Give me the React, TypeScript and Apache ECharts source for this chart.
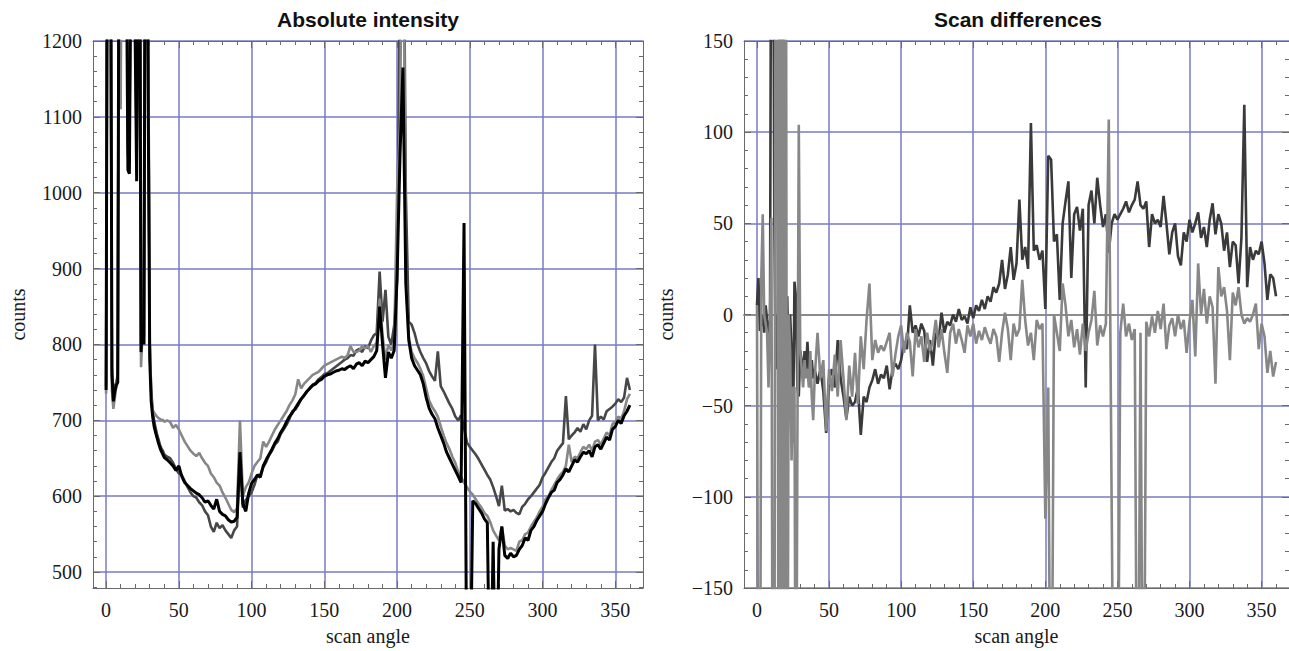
import React, { useEffect, useRef } from "react";
import * as echarts from "echarts";

// Sampled scan angles (degrees)
const angles: number[] = [
  0, 1, 2, 3, 4, 5, 6, 7, 8, 9,
  10, 11, 12, 13, 14, 15, 16, 17, 18, 19,
  20, 21, 22, 23, 24, 25, 26, 27, 28, 29,
  30, 31, 32, 33, 34, 35, 36, 37, 38, 39, 40,
  42, 44, 46, 48, 50, 52, 54, 56, 58, 60,
  62, 64, 66, 68, 70, 72, 74, 76, 78, 80,
  82, 84, 86, 88, 90, 92, 94, 96, 98, 100,
  102, 104, 106, 108, 110, 112, 114, 116, 118, 120,
  122, 124, 126, 128, 130, 132, 134, 136, 138, 140,
  142, 144, 146, 148, 150, 152, 154, 156, 158, 160,
  162, 164, 166, 168, 170, 172, 174, 176, 178, 180,
  182, 184, 186, 188, 190, 192, 194, 196, 198, 200,
  202, 204, 206, 208, 210, 212, 214, 216, 218, 220,
  222, 224, 226, 228, 230, 232, 234, 236, 238, 240,
  242, 244, 246, 248, 250, 252, 254, 256, 258, 260,
  262, 264, 266, 268, 270, 272, 274, 276, 278, 280,
  282, 284, 286, 288, 290, 292, 294, 296, 298, 300,
  302, 304, 306, 308, 310, 312, 314, 316, 318, 320,
  322, 324, 326, 328, 330, 332, 334, 336, 338, 340,
  342, 344, 346, 348, 350, 352, 354, 356, 358, 360,
];

// Absolute intensity, black scan
const intensityBlack: number[] = [
  740, 1500, 1500, 1500, 760, 725, 738, 746, 750, 1500,
  1500, 1500, 1500, 1500, 1300, 1030, 1025, 1300, 1500, 1500,
  1200, 1015, 1300, 1500, 790, 825, 800, 1500, 1500, 1100,
  780, 725, 705, 692, 684, 677, 670, 664, 659, 655, 651,
  648, 644, 640, 634, 640, 626, 618, 614, 610, 607,
  604, 602, 598, 592, 594, 588, 583, 596, 580, 576,
  574, 569, 566, 567, 572, 658, 590, 580, 604, 617,
  622, 628, 625, 640, 648, 655, 662, 670, 676, 684,
  690, 698, 705, 710, 716, 722, 728, 733, 738, 742,
  746, 748, 752, 754, 758, 760, 761, 763, 765, 766,
  768, 767, 770, 772, 768, 774, 776, 772, 778, 776,
  780, 784, 792, 850, 800, 756, 790, 782, 792, 890,
  1050, 1165, 880, 806, 782, 772, 766, 760, 748, 730,
  716, 708, 702, 690, 680, 670, 658, 650, 642, 634,
  626, 618, 960, 300, 300, 594, 590, 584, 578, 570,
  565, 300, 540, 300, 530, 560, 522, 518, 525, 520,
  522, 530, 535, 545, 542, 555, 560, 568, 574, 580,
  590, 598, 605, 608, 618, 622, 628, 636, 632, 640,
  648, 645, 652, 658, 656, 660, 652, 665, 668, 662,
  670, 678, 674, 688, 692, 700, 696, 706, 712, 720,
];

// Absolute intensity, dark gray scan
const intensityDark: number[] = [
  745, 1500, 1500, 1400, 770, 735, 745, 750, 760, 1500,
  1500, 1500, 1500, 1500, 1400, 1060, 1040, 1400, 1500, 1500,
  1300, 1030, 1350, 1500, 800, 830, 810, 1500, 1500, 1200,
  800, 740, 712, 700, 690, 682, 675, 668, 663, 660, 655,
  652, 650, 644, 636, 630, 628, 620, 612, 605, 600,
  598, 592, 588, 580, 575, 560, 553, 565, 558, 562,
  555, 550, 545, 555, 560, 650, 585, 595, 600, 605,
  615, 628, 628, 638, 645, 654, 660, 668, 672, 682,
  688, 694, 702, 712, 714, 720, 728, 732, 738, 743,
  747, 749, 754, 757, 761, 762, 765, 768, 771, 774,
  777, 780, 782, 786, 785, 792, 794, 790, 798, 795,
  805, 812, 815, 896, 830, 872, 810, 800, 825, 885,
  1300, 1500, 1000, 830, 826, 815, 800, 790, 782, 775,
  765, 758, 752, 791, 745, 738, 730, 722, 715, 705,
  700, 707, 690, 671, 665, 660, 655, 649, 642, 635,
  628, 622, 612, 600, 587, 614, 581, 583, 580, 582,
  578, 576, 586, 590, 596, 600, 605, 610, 615, 625,
  631, 638, 645, 650, 660, 665, 670, 732, 675, 680,
  684, 690, 685, 695, 688, 700, 706, 800, 700, 705,
  701, 712, 715, 718, 722, 728, 724, 730, 756, 740,
];

// Absolute intensity, mid gray scan
const intensityGray: number[] = [
  735, 1500, 1500, 1400, 740, 715, 730, 745, 755, 1500,
  1110, 1500, 1500, 1500, 1400, 1050, 1040, 1400, 1500, 1500,
  1250, 1055, 1300, 1500, 770, 815, 800, 1500, 1500, 1150,
  800, 735, 714, 710, 707, 705, 703, 702, 700, 701, 698,
  700, 698, 690, 694, 688, 680, 672, 666, 660, 656,
  653, 657, 650, 644, 640, 630, 625, 618, 614, 605,
  598, 590, 582, 579, 584, 700, 600, 612, 618, 630,
  640, 645, 650, 672, 665, 672, 680, 688, 694, 700,
  706, 712, 720, 726, 734, 754, 742, 748, 752, 756,
  760, 762, 764, 768, 772, 774, 776, 778, 780, 782,
  784, 782, 786, 798, 790, 790, 792, 798, 795, 798,
  790, 798, 802, 860, 812, 780, 800, 792, 802, 1002,
  1090, 1500, 890, 810, 790, 782, 776, 768, 758, 742,
  726, 718, 712, 705, 692, 680, 670, 662, 652, 644,
  632, 625, 618, 612, 606, 602, 596, 590, 585, 578,
  574, 566, 555, 548, 542, 560, 535, 530, 532, 530,
  528, 540, 542, 550, 552, 560, 566, 572, 580, 586,
  596, 600, 608, 615, 622, 628, 632, 640, 668, 645,
  652, 650, 658, 665, 662, 668, 660, 672, 674, 668,
  676, 684, 680, 695, 698, 705, 702, 712, 728, 735,
];

// Scan differences, dark gray
const diffDark: number[] = [
  5, 20, -9, -5, 0, -10, 5, -3, -8, -20,
  300, 300, 55, -30, 0, -20, 300, 108, 300, -128,
  -60, 10, -40, 0, -20, -70, 18, 10, -40, -45,
  -20, -25, -35, -20, -30, -15, -30, -40, -25, -35, -30,
  -38, -30, -42, -65, -35, -30, -40, -14, -35, -45,
  -57, -45, -50, -48, -40, -66, -45, -48, -40, -36,
  -30, -38, -33, -35, -28, -41, -30, -27, -30, -25,
  -15, -19, 5, -10, -6, -12, -5, -9, -26, -14,
  -28, -10, -14, 1, -10, -4, -6, 0, -4, 3,
  -3, -1, -5, 4, -2, 5, 2, 8, 3, 10,
  7, 15, 12, 17, 30, 14, 22, 37, 19, 28,
  63, 30, 37, 25, 105, 35, 38, 30, 35, 3,
  87, 85, 40, 44, 8, 50, 62, 73, 20, 55,
  59, 46, 58, -40, 60, 68, 50, 75, 60, 48,
  55, 34, 50, 55, 52, 55, 58, 62, 56, 60,
  63, 73, 60, 58, 62, 37, 55, 50, 52, 48,
  65, 50, 33, 45, 50, 32, 27, 45, 40, 52,
  45, 50, 56, 42, 48, 37, 52, 61, 44, 55,
  50, 35, 45, 26, 40, 38, 17, 42, 115, 15,
  37, 30, 35, 33, 40, 28, 8, 22, 20, 10,
];

// Scan differences, mid gray
const diffGray: number[] = [
  5, -300, -300, 20, 55, 0, -5, -10, -40, -5,
  53, -300, -300, 300, 300, -300, 300, -300, 300, -300,
  300, -300, 0, -20, -80, -40, -40, -300, -74, 104,
  -20, -30, -40, -25, -35, -30, -40, -20, -45, -58, -35,
  -10, -35, -25, -64, -30, -42, -22, -45, -14, -35,
  -58, -28, -45, -21, -49, -12, -30, -3, 17, -25,
  -14, -21, -17, -20, -15, -10, -34, -22, -12, -6,
  -21, -10, -15, -34, -8, -18, -12, -26, -10, -20,
  -15, -3, -18, -8, -21, -32, -10, -5, -16, -8,
  -14, -21, -6, -12, -5, -16, -9, -14, -7, -12,
  -16, -8, -12, -26, -10, 1, -8, -25, -5, -12,
  -8, 19, -3, -17, -10, -25, -3, -8, -5, -112,
  -40, -300, 0, -10, -20, 17, 5, -12, -3, -18,
  -8, -22, -5, -20, -10, -3, 13, -17, -6, -12,
  -5, 107, -104, -300, -300, -10, 6, -12, -5, -14,
  -8, -300, -10, -300, -4, -12, -1, -10, 2, -8,
  6, -19, -6, -2, -12, 0, -8, -3, -21, -4,
  8, -23, 28, 0, 14, -5, 10, 4, -38, 26,
  10, 15, 2, -25, 12, 5, 15, 0, -5, -2,
  -4, 0, 6, -19, -5, -12, -32, -20, -34, -26,
];

// Tick positions and labels
const xMajorTicks = [0, 50, 100, 150, 200, 250, 300, 350];
const xMinorTicks = [
  0, 10, 20, 30, 40, 50, 60, 70, 80, 90, 100, 110, 120, 130, 140, 150, 160, 170, 180,
  190, 200, 210, 220, 230, 240, 250, 260, 270, 280, 290, 300, 310, 320, 330, 340, 350, 360,
];
const leftMajorTicks = [500, 600, 700, 800, 900, 1000, 1100, 1200];
const leftMinorTicks = [
  480, 500, 520, 540, 560, 580, 600, 620, 640, 660, 680, 700, 720, 740, 760, 780, 800, 820, 840,
  860, 880, 900, 920, 940, 960, 980, 1000, 1020, 1040, 1060, 1080, 1100, 1120, 1140, 1160, 1180, 1200,
];
const rightMajorTicks = [-150, -100, -50, 0, 50, 100, 150];
const rightMinorTicks = [
  -150, -140, -130, -120, -110, -100, -90, -80, -70, -60, -50, -40, -30, -20, -10, 0,
  10, 20, 30, 40, 50, 60, 70, 80, 90, 100, 110, 120, 130, 140, 150,
];

const SERIF = '"Liberation Serif", "Times New Roman", serif';
const SANS = '"Liberation Sans", Arial, Helvetica, sans-serif';
const FRAME = "#6a6a6a";
const GRID_BLUE = "#7a7ac6";
const LABEL = "#1a1a1a";

const pairs = (ys: number[]) => angles.map((a, i) => [a, ys[i]]);

function xAxesFor(gridIndex: number, withZeroLine: boolean) {
  const base = { type: "value", gridIndex, min: -9, max: 369 };
  const line = { color: FRAME, width: 1 };
  const axes: any[] = [
    {
      ...base,
      position: "bottom",
      name: "scan angle",
      nameLocation: "middle",
      nameGap: 38,
      nameTextStyle: { fontFamily: SERIF, fontSize: 20, color: LABEL },
      axisLine: { show: true, onZero: false, lineStyle: line },
      axisTick: { show: true, inside: true, length: 7, customValues: xMajorTicks, lineStyle: line },
      axisLabel: { show: true, customValues: xMajorTicks, margin: 12, fontFamily: SERIF, fontSize: 20, color: LABEL },
      splitLine: { show: true, lineStyle: { color: GRID_BLUE, width: 1.5 } },
    },
    {
      ...base,
      position: "bottom",
      axisLine: { show: false, onZero: false },
      axisTick: { show: true, inside: true, length: 4, customValues: xMinorTicks, lineStyle: line },
      axisLabel: { show: false },
      splitLine: { show: false },
    },
    {
      ...base,
      position: "top",
      axisLine: { show: true, onZero: false, lineStyle: line },
      axisTick: { show: true, inside: true, length: 7, customValues: xMajorTicks, lineStyle: line },
      axisLabel: { show: false },
      splitLine: { show: false },
    },
    {
      ...base,
      position: "top",
      axisLine: { show: false, onZero: false },
      axisTick: { show: true, inside: true, length: 4, customValues: xMinorTicks, lineStyle: line },
      axisLabel: { show: false },
      splitLine: { show: false },
    },
  ];
  if (withZeroLine) {
    axes.push({
      ...base,
      position: "bottom",
      axisLine: { show: true, onZero: true, lineStyle: { color: "#8c8c8c", width: 2 } },
      axisTick: { show: false },
      axisLabel: { show: false },
      splitLine: { show: false },
    });
  }
  return axes;
}

function yAxesFor(
  gridIndex: number,
  min: number,
  max: number,
  major: number[],
  minor: number[],
  nameGap: number,
  fmt: (v: number) => string
) {
  const base = { type: "value", gridIndex, min, max };
  const line = { color: FRAME, width: 1 };
  return [
    {
      ...base,
      position: "left",
      name: "counts",
      nameLocation: "middle",
      nameGap,
      nameTextStyle: { fontFamily: SERIF, fontSize: 20, color: LABEL },
      axisLine: { show: true, onZero: false, lineStyle: line },
      axisTick: { show: true, inside: true, length: 7, customValues: major, lineStyle: line },
      axisLabel: {
        show: true,
        customValues: major,
        margin: 11,
        fontFamily: SERIF,
        fontSize: 20,
        color: LABEL,
        formatter: fmt,
      },
      splitLine: { show: true, lineStyle: { color: GRID_BLUE, width: 1.5 } },
    },
    {
      ...base,
      position: "left",
      axisLine: { show: false, onZero: false },
      axisTick: { show: true, inside: true, length: 4, customValues: minor, lineStyle: line },
      axisLabel: { show: false },
      splitLine: { show: false },
    },
    {
      ...base,
      position: "right",
      axisLine: { show: true, onZero: false, lineStyle: line },
      axisTick: { show: true, inside: true, length: 7, customValues: major, lineStyle: line },
      axisLabel: { show: false },
      splitLine: { show: false },
    },
    {
      ...base,
      position: "right",
      axisLine: { show: false, onZero: false },
      axisTick: { show: true, inside: true, length: 4, customValues: minor, lineStyle: line },
      axisLabel: { show: false },
      splitLine: { show: false },
    },
  ];
}

function lineSeries(name: string, ys: number[], axisIndex: number, color: string, width: number, z: number) {
  return {
    type: "line",
    name,
    data: pairs(ys),
    xAxisIndex: axisIndex,
    yAxisIndex: axisIndex,
    showSymbol: false,
    symbol: "none",
    clip: true,
    silent: true,
    z,
    lineStyle: { color, width },
  };
}

function buildOption(): any {
  const leftX = xAxesFor(0, false); // xAxis 0-3
  const rightX = xAxesFor(1, true); // xAxis 4-8
  const leftY = yAxesFor(0, 479, 1200, leftMajorTicks, leftMinorTicks, 65, (v) => String(v)); // yAxis 0-3
  const rightY = yAxesFor(1, -150, 150, rightMajorTicks, rightMinorTicks, 68, (v) =>
    v < 0 ? "\u2212" + Math.abs(v) : String(v)
  ); // yAxis 4-7

  return {
    animation: false,
    backgroundColor: "#ffffff",
    textStyle: { fontFamily: SERIF },
    grid: [
      { left: 93, top: 41, width: 550, height: 548 },
      { left: 744, top: 41, width: 549, height: 548 },
    ],
    xAxis: [...leftX, ...rightX],
    yAxis: [...leftY, ...rightY],
    graphic: [
      {
        type: "text",
        x: 368,
        y: 19,
        silent: true,
        style: {
          text: "Absolute intensity",
          font: `bold 21px ${SANS}`,
          fill: "#111",
          align: "center",
          verticalAlign: "middle",
          textAlign: "center",
          textVerticalAlign: "middle",
        },
      },
      {
        type: "text",
        x: 1018,
        y: 19,
        silent: true,
        style: {
          text: "Scan differences",
          font: `bold 21px ${SANS}`,
          fill: "#111",
          align: "center",
          verticalAlign: "middle",
          textAlign: "center",
          textVerticalAlign: "middle",
        },
      },
    ],
    series: [
      lineSeries("dark gray scan", intensityDark, 0, "#474747", 2.6, 2),
      lineSeries("mid gray scan", intensityGray, 0, "#878787", 2.6, 3),
      lineSeries("black scan", intensityBlack, 0, "#000000", 3, 4),
      lineSeries("dark gray difference", diffDark, 4, "#3a3a3a", 2.6, 2),
      lineSeries("mid gray difference", diffGray, 4, "#878787", 2.6, 3),
    ],
  };
}

export default function App() {
  const ref = useRef<HTMLDivElement>(null);
  useEffect(() => {
    if (!ref.current) return;
    const chart = echarts.init(ref.current, null, { renderer: "svg" });
    chart.setOption(buildOption());
    return () => chart.dispose();
  }, []);
  return (
    <div
      ref={ref}
      style={{ position: "fixed", left: 0, top: 0, width: 1289, height: 651, background: "#ffffff" }}
    />
  );
}
